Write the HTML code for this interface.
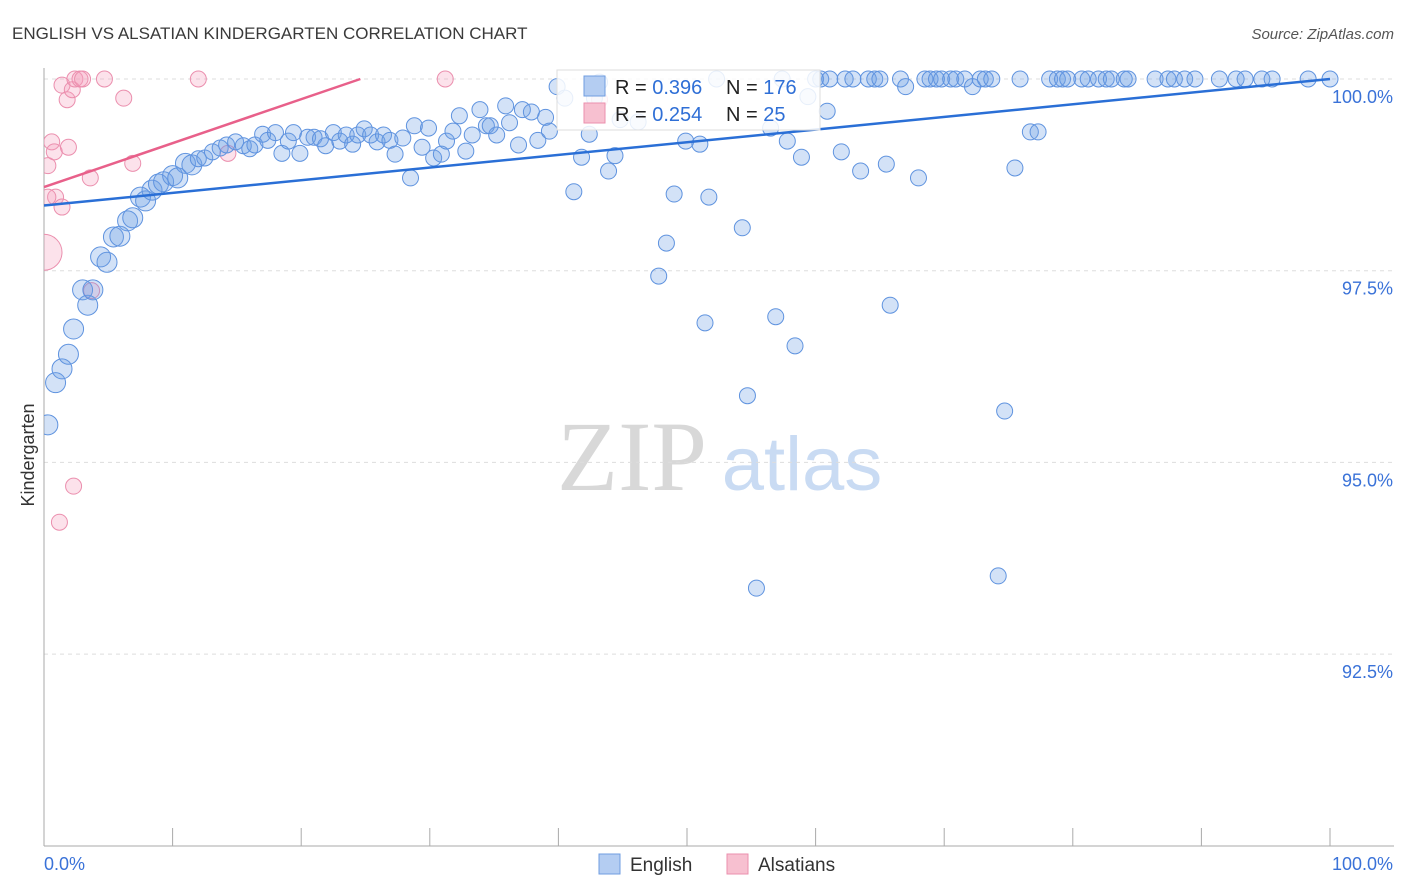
<!DOCTYPE html>
<html><head><meta charset="utf-8"><style>
body{margin:0;background:#fff;font-family:"Liberation Sans",sans-serif;}
#wrap{position:relative;width:1406px;height:892px;overflow:hidden;}
</style></head><body>
<div id="wrap">
<svg id="chart" width="1406" height="892" xmlns="http://www.w3.org/2000/svg">
<defs><clipPath id="plotclip"><rect x="44" y="50" width="1360" height="796"/></clipPath></defs>
<text x="12" y="39" font-size="17" fill="#3a3a3a">ENGLISH VS ALSATIAN KINDERGARTEN CORRELATION CHART</text>
<text x="1394" y="39" font-size="15" fill="#555" font-style="italic" text-anchor="end">Source: ZipAtlas.com</text>
<text x="34" y="455" font-size="18" fill="#333" transform="rotate(-90 34 455)" text-anchor="middle">Kindergarten</text>
<g>
<text x="632" y="490" font-size="100" fill="#d8d8d8" font-family="Liberation Serif,serif" text-anchor="middle">ZIP</text>
<text x="802" y="490" font-size="76" fill="#c9dbf3" text-anchor="middle">atlas</text>
</g>
<g id="grid"></g><g id="axes"></g><g id="pts" clip-path="url(#plotclip)"></g><g id="lines"></g>
<g>
<rect x="557" y="70" width="263" height="60" fill="#fff" fill-opacity="0.85" stroke="#ddd"/>
<rect x="584" y="76" width="21" height="20" fill="#b4cdf2" stroke="#6f9de0"/>
<rect x="584" y="103" width="21" height="20" fill="#f7c0d0" stroke="#eb8fae"/>
<text x="615" y="94" font-size="20" fill="#222">R = <tspan fill="#2f6fd6">0.396</tspan></text>
<text x="726" y="94" font-size="20" fill="#222">N = <tspan fill="#2f6fd6">176</tspan></text>
<text x="615" y="121" font-size="20" fill="#222">R = <tspan fill="#2f6fd6">0.254</tspan></text>
<text x="726" y="121" font-size="20" fill="#222">N = <tspan fill="#2f6fd6"> 25</tspan></text>
</g>
<g>
<rect x="599" y="854" width="21" height="20" fill="#b4cdf2" stroke="#6f9de0"/>
<text x="630" y="871" font-size="19" fill="#333">English</text>
<rect x="727" y="854" width="21" height="20" fill="#f7c0d0" stroke="#eb8fae"/>
<text x="758" y="871" font-size="19" fill="#333">Alsatians</text>
</g>
</svg></div>
<script>
const blueX=[0.3,0.9,1.4,1.9,2.3,3.4,3.0,3.8,4.4,4.9,5.4,5.9,6.5,6.9,7.5,7.9,8.4,8.9,9.3,10.0,10.4,11.0,11.5,12.0,12.5,13.1,13.7,14.2,14.9,15.5,16.0,16.4,17.0,17.4,18.0,18.5,19.0,19.4,19.9,20.5,21.0,21.5,21.9,22.5,23.0,23.5,24.0,24.4,24.9,25.4,25.9,26.4,26.9,27.3,27.9,28.5,28.8,29.4,29.9,30.3,30.9,31.3,31.8,32.3,32.8,33.3,33.9,34.4,34.7,35.2,35.9,36.2,36.9,37.2,37.9,38.4,39.0,39.3,39.9,40.5,41.2,41.8,42.4,42.8,43.2,43.9,44.4,44.8,46.2,47.8,48.4,49.0,49.9,51.0,51.4,51.7,52.3,54.3,54.7,55.4,56.5,56.9,57.4,57.8,58.4,58.9,59.4,60.0,60.4,60.9,61.1,62.0,62.3,62.9,63.5,64.1,64.6,65.0,65.5,65.8,66.6,67.0,68.0,68.5,68.9,69.4,69.8,70.5,70.9,71.6,72.2,72.8,73.2,73.7,74.2,74.7,75.5,75.9,76.7,77.3,78.2,78.8,79.2,79.6,80.7,81.2,82.0,82.6,83.0,84.0,84.3,86.4,87.4,87.9,88.7,89.5,91.4,92.7,93.4,94.7,95.5,98.3,100];
const blueY=[95.49,96.04,96.22,96.41,96.74,97.05,97.25,97.25,97.68,97.61,97.94,97.95,98.15,98.19,98.46,98.41,98.55,98.63,98.66,98.74,98.71,98.90,98.88,98.96,98.97,99.05,99.10,99.14,99.18,99.13,99.09,99.14,99.28,99.20,99.30,99.03,99.19,99.30,99.03,99.24,99.24,99.22,99.13,99.30,99.19,99.27,99.15,99.27,99.35,99.27,99.18,99.27,99.20,99.02,99.23,98.71,99.39,99.11,99.36,98.97,99.02,99.19,99.32,99.52,99.06,99.27,99.60,99.39,99.39,99.27,99.65,99.43,99.14,99.60,99.57,99.20,99.50,99.32,99.90,99.75,98.53,98.98,99.28,99.75,99.96,98.80,99.00,99.47,99.44,97.43,97.86,98.50,99.19,99.15,96.82,98.46,100,98.06,95.87,93.36,99.36,96.90,100,99.19,96.52,98.98,99.77,100,100,99.58,100,99.05,100,100,98.80,100,100,100,98.89,97.05,100,99.90,98.71,100,100,100,100,100,100,100,99.90,100,100,100,93.52,95.67,98.84,100,99.31,99.31,100,100,100,100,100,100,100,100,100,100,100,100,100,100,100,100,100,100,100,100,100,100,100];
const pinkX=[0,0.3,0.6,0.9,1.4,0.3,0.8,1.4,1.8,1.9,2.2,2.4,2.8,3.0,3.6,3.7,2.3,1.2,4.7,6.2,6.9,12.0,14.3,31.2,43.2];
const pinkY=[97.74,98.87,99.18,98.46,98.33,98.46,99.05,99.92,99.73,99.11,99.86,100,100,100,98.71,97.24,94.69,94.22,100,99.75,98.90,100,99.03,100,99.73];
const pinkR=[18,8,8,8,8,8,8,8,8,8,8,8,8,8,8,8,8,8,8,8,8,8,8,8,8];
const yTicks=[100,97.5,95,92.5];
const yTickLabels=["100.0%","97.5%","95.0%","92.5%"];
const trendBlue=[98.35,100];
const trendPink=[98.59,100.0,24.6];
const NS="http://www.w3.org/2000/svg";
const X=v=>44+v*12.86, Y=v=>79+(100-v)*76.68;
function mk(t,a,p){const e=document.createElementNS(NS,t);for(const k in a)e.setAttribute(k,a[k]);p.appendChild(e);return e;}
const grid=document.getElementById('grid'),axes=document.getElementById('axes');
yTicks.forEach((t,i)=>{
 const l=mk('line',{x1:44,x2:1394,y1:Y(t),y2:Y(t),stroke:'#ddd','stroke-dasharray':'4 4'},grid);
 
 
 const tx=mk('text',{x:1393,y:Y(t)+24,'font-size':18,fill:'#3a72d8','text-anchor':'end'},axes);
 tx.textContent=yTickLabels[i];
 
 
});
const ya=mk('line',{x1:44,x2:44,y1:68,y2:846,stroke:'#aaa'},axes);


const xa=mk('line',{x1:44,x2:1394,y1:846,y2:846,stroke:'#aaa'},axes);


for(let i=0;i<=10;i++){const t=mk('line',{x1:X(i*10),x2:X(i*10),y1:828,y2:846,stroke:'#aaa'},axes);
 
 }
const xl0=mk('text',{x:44,y:870,'font-size':18,fill:'#3a72d8'},axes);xl0.textContent='0.0%';


const xl1=mk('text',{x:1393,y:870,'font-size':18,fill:'#3a72d8','text-anchor':'end'},axes);xl1.textContent='100.0%';


const pts=document.getElementById('pts');
pinkX.forEach((x,i)=>{const c=mk('circle',{cx:X(x),cy:Y(pinkY[i]),r:pinkR[i],fill:'rgba(245,160,190,0.3)',stroke:'#eb8fae','stroke-width':1},pts);
 
 });
blueX.forEach((x,i)=>{const c=mk('circle',{cx:X(x),cy:Y(blueY[i]),r:x<12?10:8,fill:'rgba(110,160,230,0.3)',stroke:'#5f93df','stroke-width':1},pts);
 
 });
const lines=document.getElementById('lines');
const lb=mk('line',{x1:X(0),y1:Y(trendBlue[0]),x2:X(100),y2:Y(trendBlue[1]),stroke:'#2a6fd6','stroke-width':2.5},lines);


const lp=mk('line',{x1:X(0),y1:Y(trendPink[0]),x2:X(trendPink[2]),y2:Y(trendPink[1]),stroke:'#e8608a','stroke-width':2.5},lines);


</script>
</body></html>
